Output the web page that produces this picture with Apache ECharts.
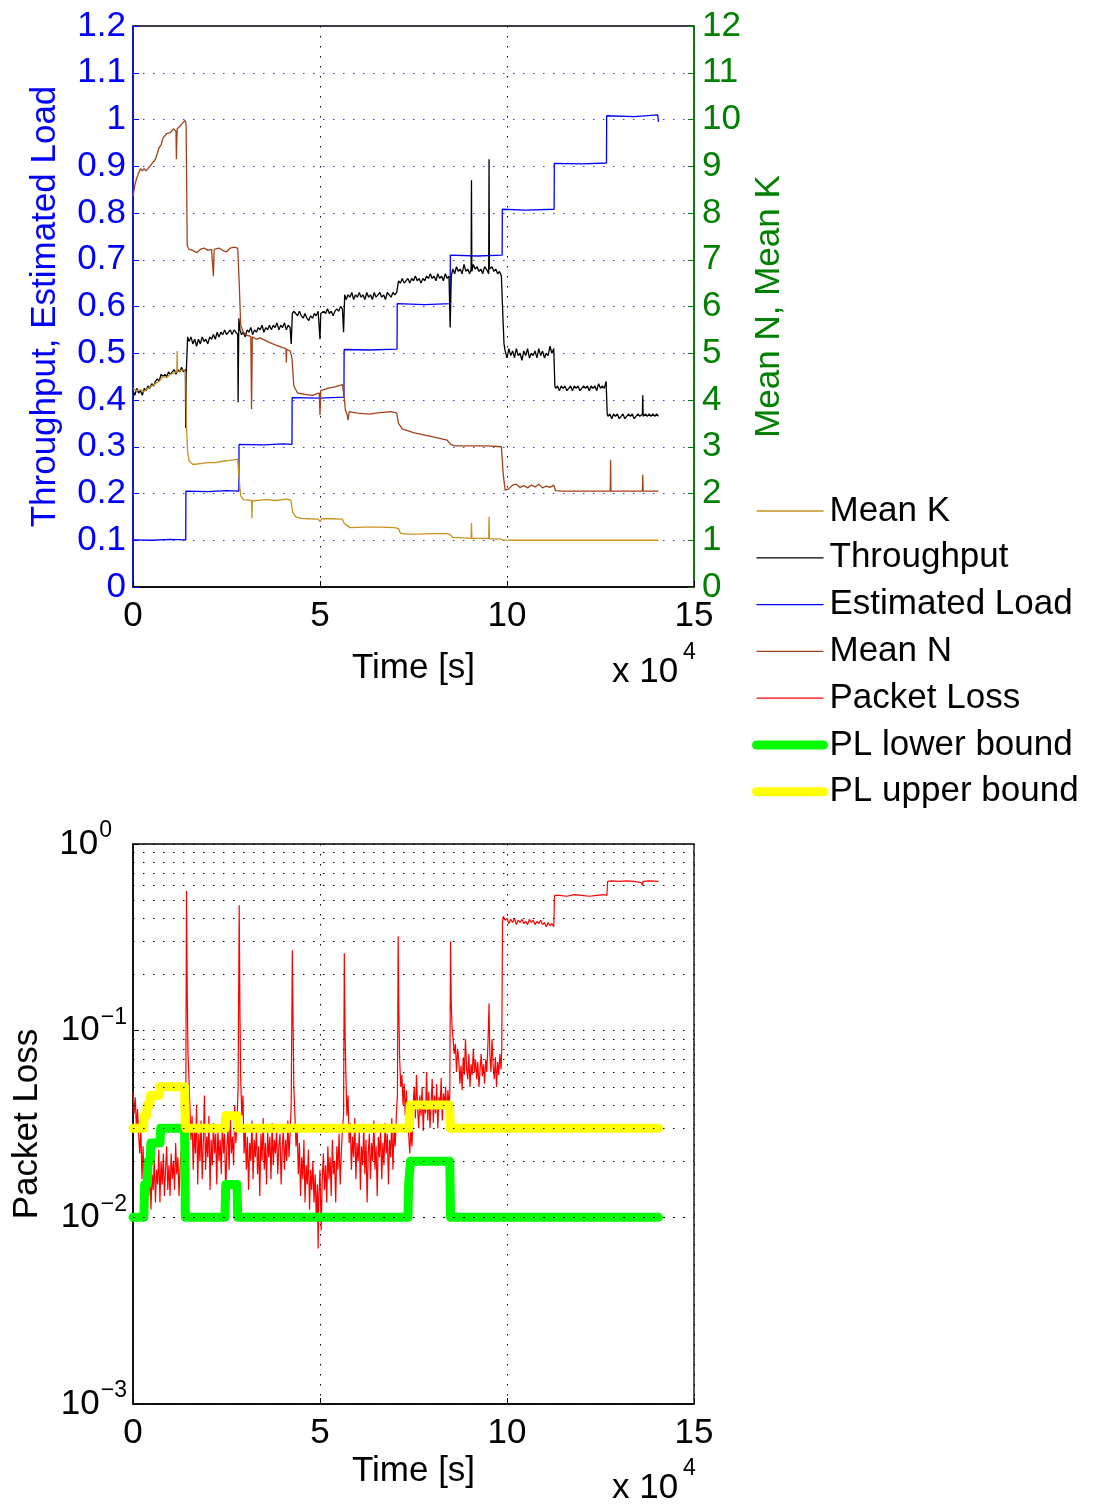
<!DOCTYPE html>
<html><head><meta charset="utf-8">
<script src="https://cdn.jsdelivr.net/npm/echarts@6/dist/echarts.min.js"></script>
<style>html,body{margin:0;padding:0;background:#fff}#c{width:1101px;height:1506px}</style>
</head><body><div id="c"></div><script>
// time in units of 10^4 s
const xTicks = [0, 5, 10, 15];
const legendNames = ['Mean K','Throughput','Estimated Load','Mean N','Packet Loss','PL lower bound','PL upper bound'];

const meanK = [[0,4.25],[0.1,4.2],[0.2,4.22],[0.3,4.18],[0.4,4.25],[0.5,4.3],[0.6,4.35],[0.7,4.4],[0.8,4.5],[0.9,4.48],[1.0,4.55],[1.1,4.58],[1.17,4.6],[1.18,5.05],[1.19,4.6],[1.25,4.62],[1.35,4.65],[1.41,4.6],[1.43,3.4],[1.46,2.9],[1.5,2.7],[1.6,2.62],[1.8,2.64],[2.0,2.66],[2.2,2.66],[2.4,2.69],[2.6,2.71],[2.8,2.73],[2.84,2.3],[2.88,1.95],[2.95,1.87],[3.1,1.86],[3.17,1.85],[3.18,1.47],[3.19,1.84],[3.4,1.86],[3.6,1.87],[3.8,1.85],[4.0,1.87],[4.1,1.88],[4.22,1.86],[4.27,1.6],[4.35,1.5],[4.5,1.47],[4.7,1.46],[4.95,1.45],[5.0,1.40],[5.05,1.46],[5.3,1.46],[5.6,1.45],[5.65,1.36],[5.8,1.27],[6.2,1.28],[6.6,1.28],[7.0,1.27],[7.1,1.25],[7.15,1.15],[7.3,1.13],[7.6,1.13],[8.0,1.14],[8.4,1.14],[8.48,1.12],[8.55,1.06],[8.8,1.05],[9.04,1.04],[9.05,1.37],[9.06,1.04],[9.51,1.04],[9.52,1.5],[9.53,1.03],[9.8,1.03],[9.9,1.01],[10.2,1.0],[14.05,1.0]];

const meanN = [[0,8.35],[0.05,8.6],[0.1,8.75],[0.15,8.85],[0.2,8.95],[0.25,8.9],[0.3,8.95],[0.35,8.9],[0.4,8.95],[0.45,8.92],[0.5,9.05],[0.6,9.15],[0.7,9.4],[0.75,9.45],[0.8,9.6],[0.85,9.62],[0.9,9.7],[1.0,9.72],[1.08,9.8],[1.15,9.75],[1.16,9.15],[1.18,9.8],[1.25,9.85],[1.3,9.9],[1.35,9.88],[1.39,9.98],[1.42,9.9],[1.45,7.3],[1.5,7.22],[1.6,7.2],[1.7,7.15],[1.8,7.22],[1.9,7.25],[2.0,7.2],[2.1,7.22],[2.15,6.65],[2.17,7.22],[2.3,7.25],[2.4,7.2],[2.5,7.17],[2.6,7.25],[2.7,7.27],[2.8,7.25],[2.84,6.5],[2.88,5.6],[2.95,5.45],[3.05,5.38],[3.15,5.36],[3.17,3.8],[3.19,5.35],[3.3,5.3],[3.4,5.33],[3.6,5.25],[3.8,5.18],[4.0,5.12],[4.09,5.1],[4.1,4.8],[4.11,5.08],[4.2,5.05],[4.25,4.9],[4.3,4.3],[4.4,4.15],[4.6,4.12],[4.8,4.1],[4.98,4.15],[5.0,3.68],[5.02,4.2],[5.2,4.25],[5.4,4.28],[5.6,4.33],[5.64,4.1],[5.68,3.78],[5.72,3.7],[5.75,3.57],[5.78,3.75],[6.0,3.72],[6.3,3.7],[6.6,3.73],[6.9,3.75],[7.05,3.72],[7.1,3.5],[7.2,3.38],[7.5,3.30],[7.8,3.25],[8.2,3.18],[8.4,3.14],[8.5,3.05],[8.6,3.02],[9.0,3.02],[9.5,3.02],[9.85,3.0],[9.9,2.4],[9.95,2.07],[10.05,2.1],[10.15,2.18],[10.25,2.2],[10.35,2.13],[10.45,2.17],[10.55,2.12],[10.65,2.18],[10.75,2.14],[10.85,2.2],[10.95,2.12],[11.05,2.16],[11.15,2.13],[11.25,2.18],[11.3,2.06],[11.5,2.05],[12.0,2.05],[12.76,2.05],[12.77,2.72],[12.78,2.05],[13.62,2.05],[13.63,2.4],[13.64,2.05],[14.05,2.05]];

const throughput = [[0,0.42],[0.05,0.41],[0.1,0.425],[0.15,0.415],[0.2,0.42],[0.25,0.41],[0.3,0.425],[0.35,0.42],[0.4,0.43],[0.45,0.425],[0.5,0.435],[0.55,0.43],[0.6,0.44],[0.65,0.445],[0.7,0.44],[0.75,0.455],[0.8,0.45],[0.85,0.455],[0.9,0.45],[0.95,0.46],[1.0,0.455],[1.05,0.46],[1.1,0.465],[1.15,0.455],[1.2,0.465],[1.25,0.46],[1.3,0.47],[1.35,0.46],[1.4,0.465],[1.41,0.34],[1.43,0.47],[1.46,0.535],[1.5,0.525],[1.55,0.535],[1.6,0.52],[1.65,0.53],[1.7,0.515],[1.75,0.53],[1.8,0.52],[1.85,0.535],[1.9,0.525],[1.95,0.53],[2.0,0.52],[2.05,0.535],[2.1,0.53],[2.15,0.54],[2.2,0.53],[2.25,0.545],[2.3,0.535],[2.35,0.545],[2.4,0.54],[2.45,0.55],[2.5,0.54],[2.55,0.545],[2.6,0.55],[2.65,0.54],[2.7,0.55],[2.75,0.545],[2.8,0.54],[2.81,0.395],[2.83,0.575],[2.86,0.55],[2.9,0.54],[2.95,0.545],[3.0,0.535],[3.05,0.55],[3.1,0.545],[3.15,0.555],[3.2,0.54],[3.25,0.55],[3.3,0.545],[3.35,0.555],[3.4,0.55],[3.45,0.56],[3.5,0.545],[3.55,0.555],[3.6,0.55],[3.65,0.56],[3.7,0.55],[3.75,0.56],[3.8,0.555],[3.85,0.565],[3.9,0.55],[3.95,0.56],[4.0,0.555],[4.05,0.565],[4.1,0.55],[4.15,0.56],[4.2,0.555],[4.23,0.52],[4.26,0.585],[4.3,0.59],[4.35,0.585],[4.4,0.58],[4.45,0.59],[4.5,0.58],[4.55,0.575],[4.6,0.585],[4.65,0.575],[4.7,0.57],[4.75,0.58],[4.8,0.575],[4.85,0.585],[4.9,0.58],[4.95,0.59],[5.0,0.53],[5.02,0.585],[5.1,0.59],[5.15,0.585],[5.2,0.595],[5.25,0.585],[5.3,0.59],[5.35,0.58],[5.4,0.59],[5.45,0.595],[5.5,0.59],[5.55,0.6],[5.6,0.595],[5.63,0.545],[5.66,0.625],[5.7,0.615],[5.75,0.625],[5.8,0.62],[5.85,0.63],[5.9,0.615],[5.95,0.625],[6.0,0.62],[6.05,0.63],[6.1,0.62],[6.15,0.625],[6.2,0.615],[6.25,0.63],[6.3,0.62],[6.35,0.625],[6.4,0.615],[6.45,0.63],[6.5,0.62],[6.55,0.625],[6.6,0.63],[6.65,0.62],[6.7,0.625],[6.75,0.615],[6.8,0.63],[6.85,0.625],[6.9,0.62],[6.95,0.63],[7.0,0.625],[7.05,0.63],[7.1,0.655],[7.15,0.65],[7.2,0.66],[7.25,0.65],[7.3,0.655],[7.35,0.66],[7.4,0.65],[7.45,0.66],[7.5,0.655],[7.55,0.665],[7.6,0.655],[7.65,0.66],[7.7,0.65],[7.75,0.66],[7.8,0.655],[7.85,0.665],[7.9,0.66],[7.95,0.67],[8.0,0.66],[8.05,0.665],[8.1,0.655],[8.15,0.67],[8.2,0.66],[8.25,0.665],[8.3,0.655],[8.35,0.67],[8.4,0.66],[8.45,0.665],[8.48,0.555],[8.51,0.665],[8.55,0.68],[8.6,0.67],[8.65,0.685],[8.7,0.675],[8.75,0.68],[8.8,0.67],[8.85,0.69],[8.9,0.675],[8.95,0.68],[9.0,0.67],[9.04,0.68],[9.05,0.87],[9.06,0.675],[9.1,0.69],[9.15,0.68],[9.2,0.685],[9.25,0.675],[9.3,0.68],[9.35,0.67],[9.4,0.685],[9.45,0.68],[9.51,0.67],[9.52,0.915],[9.53,0.68],[9.6,0.685],[9.65,0.675],[9.7,0.68],[9.75,0.67],[9.8,0.675],[9.85,0.665],[9.88,0.6],[9.92,0.52],[9.95,0.505],[10.0,0.49],[10.05,0.51],[10.1,0.495],[10.15,0.505],[10.2,0.49],[10.25,0.51],[10.3,0.495],[10.35,0.5],[10.4,0.485],[10.45,0.505],[10.5,0.495],[10.55,0.51],[10.6,0.49],[10.65,0.5],[10.7,0.495],[10.75,0.505],[10.8,0.49],[10.85,0.51],[10.9,0.495],[10.95,0.505],[11.0,0.49],[11.05,0.5],[11.1,0.495],[11.15,0.515],[11.2,0.5],[11.25,0.51],[11.28,0.43],[11.3,0.425],[11.35,0.43],[11.4,0.42],[11.45,0.43],[11.5,0.425],[11.55,0.43],[11.6,0.42],[11.65,0.425],[11.7,0.43],[11.75,0.42],[11.8,0.43],[11.85,0.425],[11.9,0.43],[11.95,0.42],[12.0,0.425],[12.05,0.43],[12.1,0.425],[12.15,0.43],[12.2,0.42],[12.25,0.43],[12.3,0.425],[12.35,0.43],[12.4,0.42],[12.45,0.435],[12.5,0.425],[12.55,0.43],[12.6,0.425],[12.65,0.44],[12.68,0.37],[12.7,0.365],[12.75,0.37],[12.8,0.36],[12.85,0.37],[12.9,0.365],[12.95,0.37],[13.0,0.36],[13.05,0.365],[13.1,0.37],[13.15,0.36],[13.2,0.365],[13.25,0.37],[13.3,0.365],[13.35,0.37],[13.4,0.36],[13.45,0.365],[13.5,0.37],[13.55,0.365],[13.62,0.37],[13.63,0.41],[13.64,0.365],[13.7,0.37],[13.75,0.365],[13.8,0.37],[13.85,0.365],[13.9,0.37],[13.95,0.365],[14.0,0.37],[14.05,0.365]];

const estLoad = [[0,0.101],[0.5,0.1],[1.0,0.102],[1.41,0.101],[1.415,0.205],[2.0,0.204],[2.5,0.206],[2.83,0.205],[2.835,0.305],[3.5,0.304],[4.0,0.306],[4.25,0.305],[4.255,0.405],[5.0,0.404],[5.64,0.406],[5.645,0.508],[6.3,0.507],[7.06,0.509],[7.065,0.606],[7.8,0.604],[8.48,0.606],[8.485,0.71],[9.2,0.708],[9.87,0.71],[9.875,0.808],[10.5,0.806],[11.26,0.808],[11.265,0.906],[12.0,0.905],[12.66,0.907],[12.665,1.008],[13.4,1.006],[14.03,1.01],[14.05,0.995]];

const packetLoss = [[0,0.047],[0.03,0.036],[0.06,0.044],[0.09,0.03],[0.12,0.038],[0.15,0.028],[0.18,0.022],[0.21,0.03],[0.24,0.016],[0.27,0.024],[0.30,0.014],[0.33,0.02],[0.36,0.017],[0.39,0.025],[0.42,0.013],[0.45,0.019],[0.48,0.011],[0.51,0.017],[0.54,0.014],[0.57,0.021],[0.60,0.012],[0.63,0.018],[0.66,0.015],[0.69,0.023],[0.72,0.012],[0.75,0.02],[0.78,0.015],[0.81,0.022],[0.84,0.013],[0.87,0.018],[0.90,0.024],[0.93,0.014],[0.96,0.019],[0.99,0.013],[1.02,0.022],[1.05,0.016],[1.08,0.02],[1.11,0.014],[1.14,0.025],[1.17,0.017],[1.20,0.021],[1.23,0.013],[1.26,0.019],[1.29,0.023],[1.32,0.015],[1.35,0.028],[1.38,0.02],[1.41,0.03],[1.43,0.56],[1.45,0.16],[1.47,0.075],[1.49,0.06],[1.52,0.04],[1.55,0.026],[1.58,0.035],[1.61,0.018],[1.64,0.03],[1.67,0.022],[1.70,0.04],[1.73,0.015],[1.76,0.028],[1.79,0.02],[1.82,0.033],[1.85,0.016],[1.88,0.025],[1.91,0.045],[1.94,0.018],[1.97,0.027],[2.00,0.021],[2.03,0.035],[2.06,0.014],[2.09,0.026],[2.12,0.019],[2.15,0.032],[2.18,0.022],[2.21,0.028],[2.24,0.015],[2.27,0.03],[2.30,0.02],[2.33,0.026],[2.36,0.017],[2.39,0.033],[2.42,0.022],[2.45,0.028],[2.48,0.013],[2.51,0.024],[2.54,0.03],[2.57,0.018],[2.60,0.036],[2.63,0.022],[2.66,0.027],[2.69,0.019],[2.72,0.04],[2.75,0.025],[2.78,0.032],[2.81,0.05],[2.84,0.47],[2.86,0.12],[2.88,0.055],[2.91,0.035],[2.94,0.045],[2.97,0.022],[3.00,0.03],[3.03,0.018],[3.06,0.027],[3.09,0.014],[3.12,0.025],[3.15,0.02],[3.18,0.033],[3.21,0.016],[3.24,0.026],[3.27,0.021],[3.30,0.03],[3.33,0.017],[3.36,0.024],[3.39,0.013],[3.42,0.028],[3.45,0.02],[3.48,0.034],[3.51,0.018],[3.54,0.025],[3.57,0.015],[3.60,0.029],[3.63,0.021],[3.66,0.027],[3.69,0.016],[3.72,0.032],[3.75,0.019],[3.78,0.026],[3.81,0.022],[3.84,0.03],[3.87,0.017],[3.90,0.024],[3.93,0.028],[3.96,0.015],[3.99,0.023],[4.02,0.03],[4.05,0.018],[4.08,0.026],[4.11,0.02],[4.14,0.033],[4.17,0.021],[4.20,0.028],[4.23,0.04],[4.26,0.27],[4.28,0.11],[4.30,0.05],[4.33,0.035],[4.36,0.024],[4.39,0.03],[4.42,0.017],[4.45,0.025],[4.48,0.013],[4.51,0.021],[4.54,0.016],[4.57,0.026],[4.60,0.012],[4.63,0.019],[4.66,0.015],[4.69,0.023],[4.72,0.011],[4.75,0.018],[4.78,0.014],[4.81,0.02],[4.84,0.012],[4.87,0.017],[4.90,0.01],[4.93,0.015],[4.95,0.0068],[4.97,0.013],[5.00,0.018],[5.03,0.0085],[5.06,0.016],[5.09,0.022],[5.12,0.014],[5.15,0.019],[5.18,0.012],[5.21,0.024],[5.24,0.016],[5.27,0.021],[5.30,0.013],[5.33,0.026],[5.36,0.017],[5.39,0.02],[5.42,0.012],[5.45,0.024],[5.48,0.018],[5.51,0.028],[5.54,0.015],[5.57,0.022],[5.60,0.03],[5.63,0.035],[5.65,0.26],[5.67,0.1],[5.69,0.06],[5.72,0.035],[5.75,0.045],[5.78,0.025],[5.81,0.032],[5.84,0.018],[5.87,0.027],[5.90,0.021],[5.93,0.034],[5.96,0.016],[5.99,0.025],[6.02,0.02],[6.05,0.029],[6.08,0.014],[6.11,0.024],[6.14,0.019],[6.17,0.031],[6.20,0.017],[6.23,0.026],[6.26,0.012],[6.29,0.022],[6.32,0.028],[6.35,0.016],[6.38,0.025],[6.41,0.02],[6.44,0.033],[6.47,0.018],[6.50,0.024],[6.53,0.013],[6.56,0.027],[6.59,0.021],[6.62,0.03],[6.65,0.016],[6.68,0.025],[6.71,0.019],[6.74,0.032],[6.77,0.022],[6.80,0.028],[6.83,0.015],[6.86,0.026],[6.89,0.021],[6.92,0.034],[6.95,0.018],[6.98,0.03],[7.01,0.024],[7.04,0.035],[7.07,0.045],[7.09,0.32],[7.11,0.12],[7.13,0.07],[7.16,0.05],[7.19,0.058],[7.22,0.04],[7.25,0.052],[7.28,0.035],[7.31,0.048],[7.34,0.032],[7.37,0.028],[7.40,0.022],[7.43,0.03],[7.46,0.024],[7.49,0.04],[7.52,0.05],[7.55,0.034],[7.58,0.058],[7.61,0.038],[7.64,0.03],[7.67,0.045],[7.70,0.035],[7.73,0.05],[7.76,0.029],[7.79,0.042],[7.82,0.036],[7.85,0.06],[7.88,0.033],[7.91,0.047],[7.94,0.03],[7.97,0.04],[8.00,0.055],[8.03,0.032],[8.06,0.045],[8.09,0.036],[8.12,0.052],[8.15,0.03],[8.18,0.044],[8.21,0.038],[8.24,0.056],[8.27,0.033],[8.30,0.046],[8.33,0.04],[8.36,0.05],[8.39,0.034],[8.42,0.048],[8.45,0.04],[8.47,0.045],[8.49,0.30],[8.51,0.14],[8.53,0.105],[8.56,0.09],[8.59,0.075],[8.62,0.085],[8.65,0.06],[8.68,0.08],[8.71,0.07],[8.74,0.052],[8.77,0.065],[8.80,0.048],[8.83,0.072],[8.86,0.058],[8.89,0.09],[8.92,0.062],[8.95,0.055],[8.98,0.075],[9.01,0.05],[9.04,0.066],[9.07,0.058],[9.10,0.08],[9.13,0.06],[9.16,0.07],[9.19,0.055],[9.22,0.068],[9.25,0.05],[9.28,0.062],[9.31,0.075],[9.34,0.057],[9.37,0.066],[9.40,0.052],[9.43,0.07],[9.46,0.06],[9.49,0.085],[9.52,0.14],[9.54,0.075],[9.57,0.06],[9.60,0.09],[9.63,0.065],[9.66,0.055],[9.69,0.072],[9.72,0.05],[9.75,0.068],[9.78,0.058],[9.81,0.075],[9.84,0.062],[9.86,0.08],[9.88,0.38],[9.9,0.41],[9.95,0.39],[10.0,0.4],[10.05,0.375],[10.1,0.395],[10.15,0.38],[10.2,0.4],[10.25,0.37],[10.3,0.39],[10.35,0.38],[10.4,0.395],[10.45,0.375],[10.5,0.385],[10.55,0.37],[10.6,0.395],[10.65,0.38],[10.7,0.39],[10.75,0.37],[10.8,0.385],[10.85,0.375],[10.9,0.39],[10.95,0.37],[11.0,0.38],[11.05,0.36],[11.1,0.38],[11.15,0.365],[11.2,0.375],[11.25,0.36],[11.27,0.53],[11.4,0.53],[11.6,0.525],[11.8,0.535],[12.0,0.53],[12.2,0.525],[12.4,0.53],[12.6,0.535],[12.67,0.53],[12.69,0.63],[12.8,0.635],[13.0,0.63],[13.2,0.635],[13.4,0.63],[13.6,0.62],[13.62,0.6],[13.64,0.63],[13.8,0.635],[14.05,0.63]];

const plLower = [[0,0.01],[0.29,0.01],[0.31,0.015],[0.38,0.015],[0.40,0.02],[0.46,0.02],[0.48,0.025],[0.72,0.025],[0.74,0.03],[1.38,0.03],[1.40,0.01],[2.46,0.01],[2.48,0.015],[2.78,0.015],[2.80,0.01],[7.35,0.01],[7.37,0.015],[7.40,0.015],[7.42,0.02],[8.47,0.02],[8.49,0.01],[14.05,0.01]];

const plUpper = [[0,0.03],[0.28,0.03],[0.30,0.035],[0.36,0.035],[0.38,0.04],[0.45,0.04],[0.47,0.045],[0.70,0.045],[0.72,0.05],[1.38,0.05],[1.40,0.03],[2.46,0.03],[2.48,0.035],[2.78,0.035],[2.80,0.03],[7.38,0.03],[7.41,0.04],[8.46,0.04],[8.49,0.03],[14.05,0.03]];

const minorGridValues = [0.002,0.003,0.004,0.005,0.006,0.007,0.008,0.009,0.02,0.03,0.04,0.05,0.06,0.07,0.08,0.09,0.2,0.3,0.4,0.5,0.6,0.7,0.8,0.9];

const FF = '"Liberation Sans", Arial, Helvetica, sans-serif';
const FS = 35;
const BLUE = '#0000FF', GREEN = '#008000';
const dots = [1.5, 8.5];
const BOUND_W = 9;

function xAxisCfg(gi, nameGap) {
  return {
    type: 'value', gridIndex: gi, min: 0, max: 15, interval: 5,
    name: 'Time [s]', nameLocation: 'middle', nameGap: nameGap,
    nameTextStyle: {fontFamily: FF, fontSize: FS, color: '#000'},
    axisLine: {show: true, onZero: false, lineStyle: {color: '#000', width: 1.5}},
    axisTick: {show: true, inside: true, length: 6, lineStyle: {color: '#000'}},
    axisLabel: {fontFamily: FF, fontSize: FS, color: '#000', margin: 12},
    splitLine: {show: true, lineStyle: {color: '#000', type: dots, width: 1}}
  };
}

const chart = echarts.init(document.getElementById('c'), null, {renderer: 'canvas'});
const option = {
  animation: false,
  backgroundColor: '#fff',
  grid: [
    {left: 133, top: 26, width: 561, height: 561, show: true, borderColor: '#000', borderWidth: 1.3, backgroundColor: 'transparent'},
    {left: 133, top: 844, width: 561, height: 560, show: true, borderColor: '#000', borderWidth: 1.3, backgroundColor: 'transparent'}
  ],
  legend: {
    data: legendNames.map(n => ({name: n, lineStyle: {width: n.indexOf('PL ') === 0 ? BOUND_W : 1.3}})),
    orient: 'vertical', left: 752, top: 491, padding: 0,
    itemWidth: 67, itemHeight: 2, itemGap: 6.8,
    itemStyle: {opacity: 0},
    textStyle: {fontFamily: FF, fontSize: FS, color: '#000', lineHeight: 40, padding: [0,0,0,1]}
  },
  xAxis: [xAxisCfg(0, 64), xAxisCfg(1, 50)],
  yAxis: [
    {type: 'value', gridIndex: 0, position: 'left', min: 0, max: 1.2, interval: 0.1,
     name: 'Throughput, Estimated Load', nameLocation: 'middle', nameGap: 70, nameRotate: 90,
     nameTextStyle: {fontFamily: FF, fontSize: FS, color: BLUE},
     axisLine: {show: true, onZero: false, lineStyle: {color: BLUE, width: 1.5}},
     axisTick: {show: true, inside: true, length: 6, lineStyle: {color: BLUE}},
     axisLabel: {fontFamily: FF, fontSize: FS, color: BLUE, margin: 7},
     splitLine: {show: true, lineStyle: {color: 'rgba(30,30,255,0.9)', type: dots, width: 1}}},
    {type: 'value', gridIndex: 0, position: 'right', min: 0, max: 12, interval: 1,
     name: 'Mean N, Mean K', nameLocation: 'middle', nameGap: 52, nameRotate: 90,
     nameTextStyle: {fontFamily: FF, fontSize: FS, color: GREEN},
     axisLine: {show: true, onZero: false, lineStyle: {color: GREEN, width: 1.5}},
     axisTick: {show: true, inside: true, length: 6, lineStyle: {color: GREEN}},
     axisLabel: {fontFamily: FF, fontSize: FS, color: GREEN, margin: 8},
     splitLine: {show: false}},
    {type: 'log', gridIndex: 1, logBase: 10, min: 0.001, max: 1,
     name: 'Packet Loss', nameLocation: 'middle', nameGap: 88, nameRotate: 90,
     nameTextStyle: {fontFamily: FF, fontSize: FS, color: '#000'},
     axisLine: {show: true, onZero: false, lineStyle: {color: '#000', width: 1.5}},
     axisTick: {show: true, inside: true, length: 6, lineStyle: {color: '#000'}},
     axisLabel: {margin: 6, color: '#000',
       formatter: function (v) {
         const e = Math.round(Math.log10(v));
         return e === 0 ? '{b|10}{z|0}' : '{b|10}{s|\u2212' + (-e) + '}';
       },
       rich: {
         b: {fontFamily: FF, fontSize: FS, color: '#000'},
         s: {fontFamily: FF, fontSize: 23, color: '#000', verticalAlign: 'bottom', padding: [0, 0, 26, 1]},
         z: {fontFamily: FF, fontSize: 23, color: '#000', verticalAlign: 'bottom', padding: [0, 15, 26, 1]}
       }},
     splitLine: {show: true, lineStyle: {color: '#000', type: dots, width: 1}}}
  ],
  series: [
    {name: 'Estimated Load', type: 'line', xAxisIndex: 0, yAxisIndex: 0, data: estLoad, showSymbol: false, symbol: 'none',
     color: BLUE, lineStyle: {color: BLUE, width: 1.3}},
    {name: 'Throughput', type: 'line', xAxisIndex: 0, yAxisIndex: 0, data: throughput, showSymbol: false, symbol: 'none',
     color: '#000', lineStyle: {color: '#000', width: 1.3}},
    {name: 'Mean N', type: 'line', xAxisIndex: 0, yAxisIndex: 1, data: meanN, showSymbol: false, symbol: 'none',
     color: '#A3421A', lineStyle: {color: '#A3421A', width: 1.3}},
    {name: 'Mean K', type: 'line', xAxisIndex: 0, yAxisIndex: 1, data: meanK, showSymbol: false, symbol: 'none',
     color: '#C8921E', lineStyle: {color: '#C8921E', width: 1.3}},
    {name: 'Packet Loss', type: 'line', xAxisIndex: 1, yAxisIndex: 2, data: packetLoss, showSymbol: false, symbol: 'none',
     color: '#FF0000', lineStyle: {color: '#FF0000', width: 1.2},
     markLine: {silent: true, symbol: ['none', 'none'], label: {show: false},
       lineStyle: {color: '#000', type: dots, width: 1},
       data: minorGridValues.map(v => ({yAxis: v}))}},
    {name: 'PL lower bound', type: 'line', xAxisIndex: 1, yAxisIndex: 2, data: plLower, showSymbol: false, symbol: 'none',
     color: '#00FF00', lineStyle: {color: '#00FF00', width: BOUND_W, cap: 'round', join: 'round'}},
    {name: 'PL upper bound', type: 'line', xAxisIndex: 1, yAxisIndex: 2, data: plUpper, showSymbol: false, symbol: 'none',
     color: '#FFFF00', lineStyle: {color: '#FFFF00', width: BOUND_W, cap: 'round', join: 'round'}}
  ],
  graphic: [
    {type: 'text', left: 612, top: 655, style: {text: 'x 10', fontFamily: FF, fontSize: FS, fill: '#000'}},
    {type: 'text', left: 683, top: 641, style: {text: '4', fontFamily: FF, fontSize: 23, fill: '#000'}},
    {type: 'text', left: 612, top: 1471, style: {text: 'x 10', fontFamily: FF, fontSize: FS, fill: '#000'}},
    {type: 'text', left: 683, top: 1457, style: {text: '4', fontFamily: FF, fontSize: 23, fill: '#000'}}
  ]
};
chart.setOption(option);
</script></body></html>
